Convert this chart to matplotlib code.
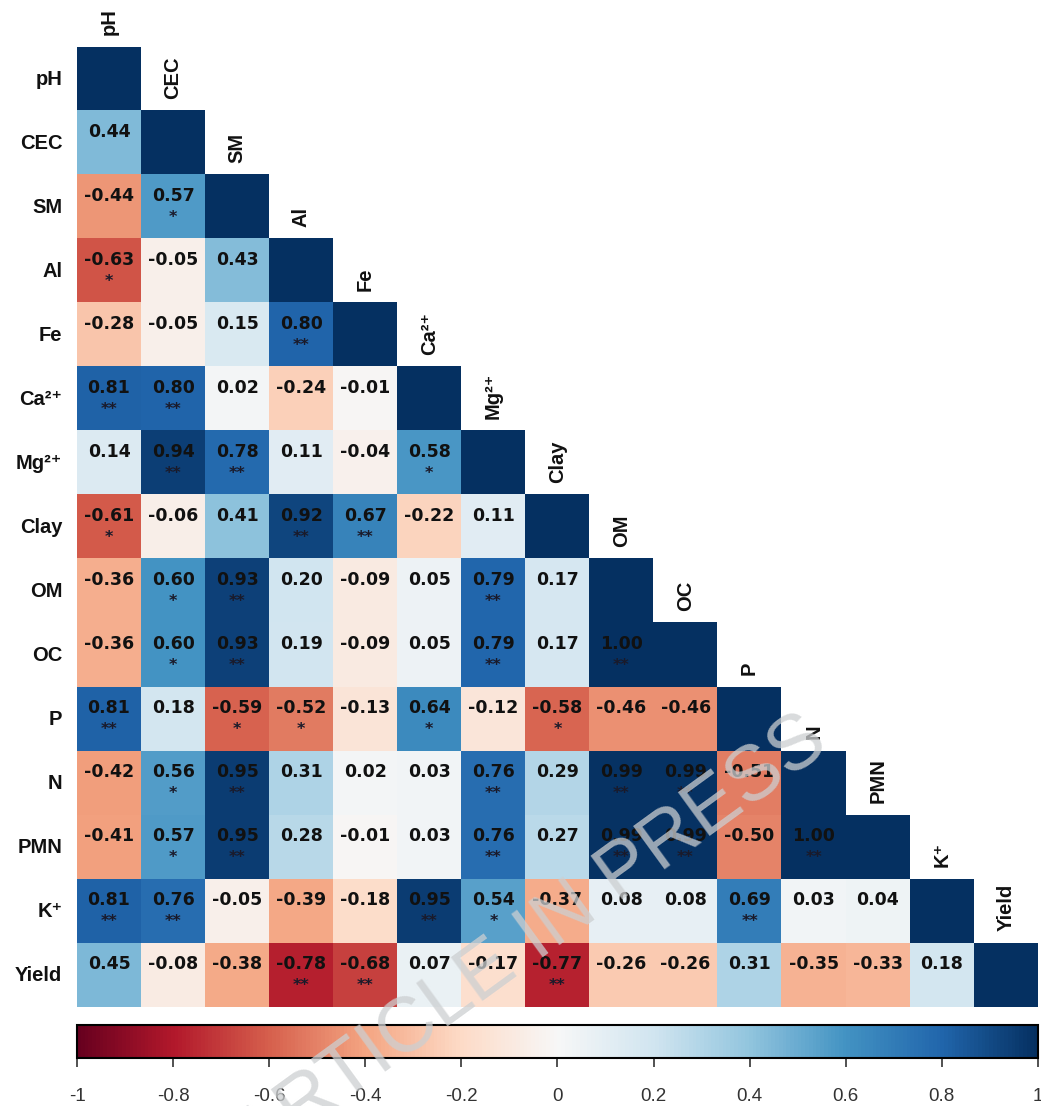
import numpy as np
import matplotlib
matplotlib.use("Agg")
import matplotlib.pyplot as plt
from matplotlib.colors import Normalize
from matplotlib.cm import ScalarMappable

plt.rcParams['font.family'] = ['Liberation Sans', 'DejaVu Sans']

# Soil / crop variables
variables = ["pH", "CEC", "SM", "Al", "Fe", "Ca²⁺", "Mg²⁺", "Clay",
             "OM", "OC", "P", "N", "PMN", "K⁺", "Yield"]
col_labels = ["pH", "CEC", "SM", "Al", "Fe", "Ca²⁺", "Mg²⁺", "Clay",
              "OM", "OC", "P", "N", "PMN", "K⁺", "Yield"]

# Lower-triangle Pearson correlations (row i holds correlations with columns 0..i-1)
r_CEC = [0.44]
r_SM = [-0.44, 0.57]
r_Al = [-0.63, -0.05, 0.43]
r_Fe = [-0.28, -0.05, 0.15, 0.80]
r_Ca = [0.81, 0.80, 0.02, -0.24, -0.01]
r_Mg = [0.14, 0.94, 0.78, 0.11, -0.04, 0.58]
r_Clay = [-0.61, -0.06, 0.41, 0.92, 0.67, -0.22, 0.11]
r_OM = [-0.36, 0.60, 0.93, 0.20, -0.09, 0.05, 0.79, 0.17]
r_OC = [-0.36, 0.60, 0.93, 0.19, -0.09, 0.05, 0.79, 0.17, 1.00]
r_P = [0.81, 0.18, -0.59, -0.52, -0.13, 0.64, -0.12, -0.58, -0.46, -0.46]
r_N = [-0.42, 0.56, 0.95, 0.31, 0.02, 0.03, 0.76, 0.29, 0.99, 0.99, -0.51]
r_PMN = [-0.41, 0.57, 0.95, 0.28, -0.01, 0.03, 0.76, 0.27, 0.99, 0.99, -0.50, 1.00]
r_K = [0.81, 0.76, -0.05, -0.39, -0.18, 0.95, 0.54, -0.37, 0.08, 0.08, 0.69, 0.03, 0.04]
r_Yield = [0.45, -0.08, -0.38, -0.78, -0.68, 0.07, -0.17, -0.77, -0.26, -0.26, 0.31, -0.35, -0.33, 0.18]

# Significance marks (* p<0.05, ** p<0.01)
s_CEC = [""]
s_SM = ["", "*"]
s_Al = ["*", "", ""]
s_Fe = ["", "", "", "**"]
s_Ca = ["**", "**", "", "", ""]
s_Mg = ["", "**", "**", "", "", "*"]
s_Clay = ["*", "", "", "**", "**", "", ""]
s_OM = ["", "*", "**", "", "", "", "**", ""]
s_OC = ["", "*", "**", "", "", "", "**", "", "**"]
s_P = ["**", "", "*", "*", "", "*", "", "*", "", ""]
s_N = ["", "*", "**", "", "", "", "**", "", "**", "**", ""]
s_PMN = ["", "*", "**", "", "", "", "**", "", "**", "**", "", "**"]
s_K = ["**", "**", "", "", "", "**", "*", "", "", "", "**", "", ""]
s_Yield = ["", "", "", "**", "**", "", "", "**", "", "", "", "", "", ""]

corr_rows = [[], r_CEC, r_SM, r_Al, r_Fe, r_Ca, r_Mg, r_Clay, r_OM, r_OC,
             r_P, r_N, r_PMN, r_K, r_Yield]
sig_rows = [[], s_CEC, s_SM, s_Al, s_Fe, s_Ca, s_Mg, s_Clay, s_OM, s_OC,
            s_P, s_N, s_PMN, s_K, s_Yield]

cbar_ticks = [-1, -0.8, -0.6, -0.4, -0.2, 0, 0.2, 0.4, 0.6, 0.8, 1]
cbar_ticklabels = ["-1", "-0.8", "-0.6", "-0.4", "-0.2", "0", "0.2", "0.4", "0.6", "0.8", "1"]

n = len(variables)
mat = np.full((n, n), np.nan)
for i in range(n):
    mat[i, i] = 1.0
    for j, v in enumerate(corr_rows[i]):
        mat[i, j] = v
masked = np.ma.masked_invalid(mat)

fig = plt.figure(figsize=(10.41, 11.06), dpi=100)
ax = fig.add_axes([0.074, 0.0895, 0.923, 0.868])
cmap = plt.get_cmap("RdBu")
norm = Normalize(vmin=-1, vmax=1)
ax.imshow(masked, cmap=cmap, norm=norm, interpolation="nearest", aspect="auto",
          extent=(-0.5, n - 0.5, n - 0.5, -0.5))
ax.set_xlim(-0.5, n - 0.5)
ax.set_ylim(n - 0.5, -0.5)
ax.axis("off")

# coefficient labels and significance stars
for i in range(n):
    for j, v in enumerate(corr_rows[i]):
        ax.text(j, i - 0.17, f"{v:.2f}", ha="center", va="center",
                fontsize=12.5, fontweight="bold", family="DejaVu Sans", color="#111111")
        s = sig_rows[i][j]
        if s:
            ax.text(j, i + 0.16, s, ha="center", va="center",
                    fontsize=11.5, fontweight="bold", family="DejaVu Sans", color="#1a1a2a")

# row labels
for i, name in enumerate(variables):
    ax.text(-0.5 - 0.23, i, name, ha="right", va="center",
            fontsize=14.5, fontweight="bold", color="#111111")

# column labels above the diagonal
for j, name in enumerate(col_labels):
    ax.text(j, j - 0.5 - 0.19, name, ha="center", va="bottom", rotation=90,
            fontsize=14.5, fontweight="bold", color="#111111")

# colour bar
cax = fig.add_axes([0.074, 0.0434, 0.923, 0.0298])
sm = ScalarMappable(norm=norm, cmap=cmap)
cb = fig.colorbar(sm, cax=cax, orientation="horizontal")
cb.set_ticks(cbar_ticks)
cb.set_ticklabels(cbar_ticklabels)
cb.outline.set_linewidth(1.5)
cb.outline.set_edgecolor("black")
cax.tick_params(axis="x", direction="out", length=6.5, width=1.1, pad=15,
                labelsize=13.5, labelcolor="#333333", color="#222222")

# diagonal watermark
fig.text(0.51, 0.15, "ARTICLE IN PRESS", rotation=36, ha="center", va="center",
         fontsize=56, color=(0.80, 0.81, 0.82), alpha=0.75, family="Liberation Sans",
         rotation_mode="anchor", zorder=10)

fig.savefig("out.png", dpi=100)
